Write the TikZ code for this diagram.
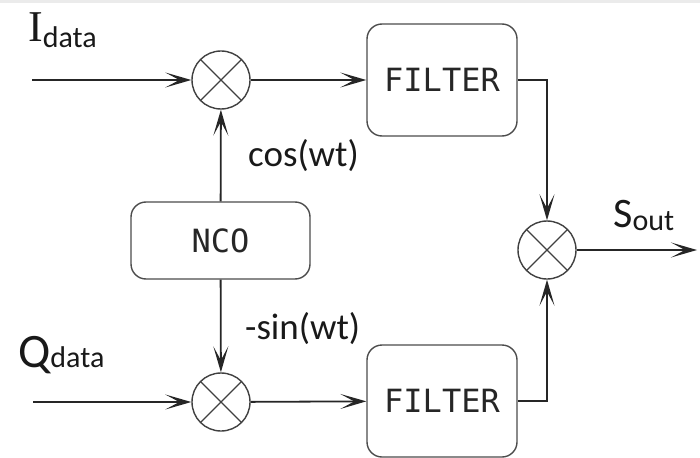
\documentclass[tikz,border=0pt]{standalone}
\usepackage{fontspec}
\setmainfont{Carlito}
\newfontfamily\blockfont{DejaVu Sans Mono}
\newfontfamily\letterfont{Liberation Serif}
\usepackage{tikz}
\usetikzlibrary{arrows.meta}
\usetikzlibrary{calc}
\tikzset{
  wire/.style = {black!85, line width=1.8pt},
  mixer/.style = {circle, draw=black!75, line width=1.4pt, minimum size=58pt, inner sep=0,
    path picture={\draw[black!75, line width=1.2pt]
      (path picture bounding box.north west) -- (path picture bounding box.south east)
      (path picture bounding box.north east) -- (path picture bounding box.south west);}},
  block/.style = {draw=black!70, line width=1.4pt, rounded corners=15pt, inner sep=0,
    font=\blockfont\fontsize{32}{32}\selectfont, text=black!85},
  lbl/.style = {anchor=base west, inner sep=0, text=black!90}
}
\newcommand{\lblsize}[1]{\fontsize{#1}{#1}\selectfont}

\begin{document}
\begin{tikzpicture}[x=1pt, y=-1pt, >={Stealth[length=26pt,width=15pt,inset=14pt]}]
\useasboundingbox (0,0) rectangle (700,457);
\fill[black!8] (0,0) rectangle (700,3);

% mixers and blocks
\node[mixer] (mulI) at (221,80) {};
\node[mixer] (mulQ) at (221,402) {};
\node[mixer] (sum) at (547,250) {};
\node[block, minimum width=150pt, minimum height=112pt] (filtI) at (442,80) {FILTER};
\node[block, minimum width=150pt, minimum height=112pt] (filtQ) at (442,401) {FILTER};
\node[block, minimum width=179pt, minimum height=77pt] (nco) at (220.5,240.5) {NCO};
\coordinate (inI) at (32,80);
\coordinate (inQ) at (33,402);
\coordinate (out) at (697,250);

% connectors
\draw[wire,->] (inI) -- (mulI);
\draw[wire,->] (inQ) -- (mulQ);
\draw[wire,->] (mulI) -- (filtI);
\draw[wire,->] (mulQ) -- (filtQ);
\draw[wire,->] (nco) -- (mulI);
\draw[wire,->] (nco) -- (mulQ);
\draw[wire,->] (filtI.east) -| (sum);
\draw[wire,->] (filtQ.east) -| (sum);
\draw[wire,->] (sum) -- (out);

% labels
\node[lbl] (lblI) at (28,42) {{\letterfont\lblsize{44}I}\raisebox{-6pt}{\lblsize{30}data}};
\node[lbl] (lblQ) at (18,367) {{\lblsize{48}Q}{\lblsize{30}data}};
\node[lbl] (lblS) at (613,227) {{\lblsize{42}S}\raisebox{-3pt}{\lblsize{30}out}};
\node[lbl, font=\lblsize{37}] (lblcos) at (248,166) {cos(wt)};
\node[lbl, font=\lblsize{37}] (lblsin) at (245,339) {-sin(wt)};
\end{tikzpicture}
\end{document}
